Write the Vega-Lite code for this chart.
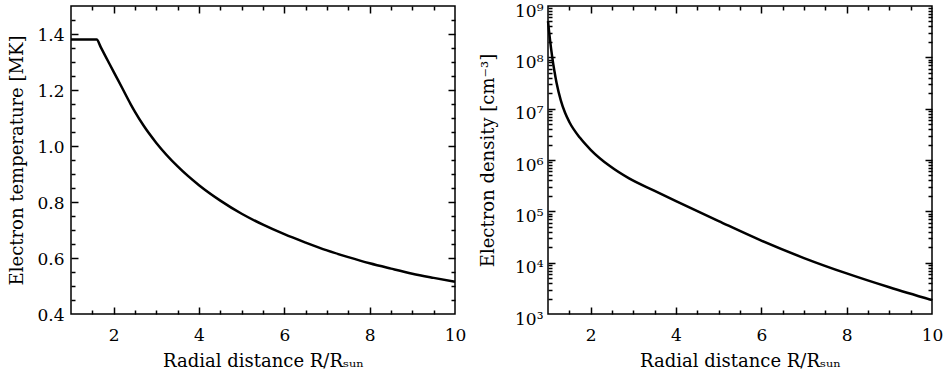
{
  "$schema": "https://vega.github.io/schema/vega-lite/v6.json",
  "padding": {"left": 8, "top": 1, "right": 0, "bottom": 0},
  "background": "white",
  "spacing": 11,
  "config": {
    "font": "DejaVu Serif",
    "view": {"stroke": "black", "strokeWidth": 1.5},
    "axis": {
      "domain": false, "grid": false, "zindex": 1,
      "labelFont": "DejaVu Serif", "labelFontSize": 17, "labelColor": "black",
      "titleFont": "DejaVu Serif", "titleFontSize": 18, "titleFontWeight": "normal", "titleColor": "black",
      "tickColor": "black", "tickWidth": 1.5, "ticks": true,
      "labelOverlap": false, "labelBound": false, "labelFlush": false
    }
  },
  "datasets": {
    "temp": [
      {"R": 1.0, "T": 1.38}, {"R": 1.3, "T": 1.38}, {"R": 1.6, "T": 1.38}, {"R": 1.7, "T": 1.352},
      {"R": 1.8, "T": 1.323}, {"R": 2.0, "T": 1.265}, {"R": 2.2, "T": 1.207}, {"R": 2.4, "T": 1.149},
      {"R": 2.5, "T": 1.122}, {"R": 2.7, "T": 1.073}, {"R": 3.0, "T": 1.011}, {"R": 3.5, "T": 0.927},
      {"R": 4.0, "T": 0.860}, {"R": 4.5, "T": 0.805}, {"R": 5.0, "T": 0.758}, {"R": 5.5, "T": 0.719},
      {"R": 6.0, "T": 0.685}, {"R": 6.5, "T": 0.655}, {"R": 7.0, "T": 0.627}, {"R": 7.5, "T": 0.603},
      {"R": 8.0, "T": 0.581}, {"R": 8.5, "T": 0.562}, {"R": 9.0, "T": 0.544}, {"R": 9.5, "T": 0.529},
      {"R": 10.0, "T": 0.515}
    ],
    "dens": [
      {"R": 1.0, "n": 5.1e8}, {"R": 1.02, "n": 3.5e8}, {"R": 1.05, "n": 2.1e8}, {"R": 1.1, "n": 1.0e8},
      {"R": 1.15, "n": 5.4e7}, {"R": 1.2, "n": 3.2e7}, {"R": 1.3, "n": 1.45e7}, {"R": 1.4, "n": 8.3e6},
      {"R": 1.5, "n": 5.5e6}, {"R": 1.75, "n": 2.7e6}, {"R": 2.0, "n": 1.58e6}, {"R": 2.45, "n": 7.6e5},
      {"R": 2.9, "n": 4.37e5}, {"R": 3.5, "n": 2.5e5}, {"R": 4.0, "n": 1.58e5}, {"R": 5.0, "n": 6.45e4},
      {"R": 6.0, "n": 2.69e4}, {"R": 7.0, "n": 1.23e4}, {"R": 8.0, "n": 6.17e3}, {"R": 9.0, "n": 3.31e3},
      {"R": 10.0, "n": 1.86e3}
    ]
  },
  "hconcat": [
    {
      "width": 384, "height": 308,
      "data": {"name": "temp"},
      "resolve": {"axis": {"x": "independent", "y": "independent"}},
      "layer": [
        {
          "mark": {"type": "line", "color": "black", "strokeWidth": 2.5, "interpolate": "monotone"},
          "encoding": {
            "x": {"field": "R", "type": "quantitative", "scale": {"domain": [1, 10], "nice": false, "zero": false},
              "axis": {"orient": "bottom", "values": [2, 4, 6, 8, 10], "format": "d", "tickSize": 0,
                "labelPadding": 13, "title": "Radial distance R/Rₛᵤₙ", "titlePadding": 9}},
            "y": {"field": "T", "type": "quantitative", "scale": {"domain": [0.4, 1.5], "nice": false, "zero": false},
              "axis": {"orient": "left", "values": [0.4, 0.6, 0.8, 1.0, 1.2, 1.4], "format": ".1f", "tickSize": 0,
                "labelPadding": 7, "labelOffset": 1, "title": "Electron temperature [MK]", "titlePadding": 10}}
          }
        },
        {
          "mark": {"type": "line", "opacity": 0},
          "encoding": {
            "x": {"field": "R", "type": "quantitative",
              "axis": {"orient": "bottom", "labels": false, "title": null, "tickSize": 7, "offset": -7, "values": [2, 4, 6, 8]}},
            "y": {"field": "T", "type": "quantitative",
              "axis": {"orient": "left", "labels": false, "title": null, "tickSize": 7, "offset": -7, "values": [0.6, 0.8, 1.0, 1.2, 1.4]}}
          }
        },
        {
          "mark": {"type": "line", "opacity": 0},
          "encoding": {
            "x": {"field": "R", "type": "quantitative",
              "axis": {"orient": "bottom", "labels": false, "title": null, "tickSize": 4, "offset": -4,
                "values": [1.5,2.5,3,3.5,4.5,5,5.5,6.5,7,7.5,8.5,9,9.5]}},
            "y": {"field": "T", "type": "quantitative",
              "axis": {"orient": "left", "labels": false, "title": null, "tickSize": 4, "offset": -4,
                "values": [0.45,0.5,0.55,0.65,0.7,0.75,0.85,0.9,0.95,1.05,1.1,1.15,1.25,1.3,1.35,1.45]}}
          }
        },
        {
          "mark": {"type": "line", "opacity": 0},
          "encoding": {
            "x": {"field": "R", "type": "quantitative",
              "axis": {"orient": "top", "labels": false, "title": null, "tickSize": 7, "offset": -7, "values": [2, 4, 6, 8]}},
            "y": {"field": "T", "type": "quantitative",
              "axis": {"orient": "right", "labels": false, "title": null, "tickSize": 7, "offset": -7, "values": [0.6, 0.8, 1.0, 1.2, 1.4]}}
          }
        },
        {
          "mark": {"type": "line", "opacity": 0},
          "encoding": {
            "x": {"field": "R", "type": "quantitative",
              "axis": {"orient": "top", "labels": false, "title": null, "tickSize": 4, "offset": -4,
                "values": [1.5,2.5,3,3.5,4.5,5,5.5,6.5,7,7.5,8.5,9,9.5]}},
            "y": {"field": "T", "type": "quantitative",
              "axis": {"orient": "right", "labels": false, "title": null, "tickSize": 4, "offset": -4,
                "values": [0.45,0.5,0.55,0.65,0.7,0.75,0.85,0.9,0.95,1.05,1.1,1.15,1.25,1.3,1.35,1.45]}}
          }
        }
      ]
    },
    {
      "width": 384, "height": 308,
      "data": {"name": "dens"},
      "resolve": {"axis": {"x": "independent", "y": "independent"}},
      "layer": [
        {
          "mark": {"type": "line", "color": "black", "strokeWidth": 2.5, "interpolate": "monotone"},
          "encoding": {
            "x": {"field": "R", "type": "quantitative", "scale": {"domain": [1, 10], "nice": false, "zero": false},
              "axis": {"orient": "bottom", "values": [2, 4, 6, 8, 10], "format": "d", "tickSize": 0,
                "labelPadding": 13, "title": "Radial distance R/Rₛᵤₙ", "titlePadding": 9}},
            "y": {"field": "n", "type": "quantitative", "scale": {"type": "log", "domain": [1e3, 1e9], "nice": false},
              "axis": {"orient": "left", "values": [1e3, 1e4, 1e5, 1e6, 1e7, 1e8, 1e9], "tickSize": 0,
                "labelExpr": "'10' + ['⁰','¹','²','³','⁴','⁵','⁶','⁷','⁸','⁹'][round(log(datum.value)/LN10)]",
                "labelPadding": 5, "labelOffset": 5, "title": "Electron density [cm⁻³]", "titlePadding": 17}}
          }
        },
        {
          "mark": {"type": "line", "opacity": 0},
          "encoding": {
            "x": {"field": "R", "type": "quantitative",
              "axis": {"orient": "bottom", "labels": false, "title": null, "tickSize": 7, "offset": -7, "values": [2, 4, 6, 8]}},
            "y": {"field": "n", "type": "quantitative",
              "axis": {"orient": "left", "labels": false, "title": null, "tickSize": 7, "offset": -7, "values": [1e4, 1e5, 1e6, 1e7, 1e8]}}
          }
        },
        {
          "mark": {"type": "line", "opacity": 0},
          "encoding": {
            "x": {"field": "R", "type": "quantitative",
              "axis": {"orient": "bottom", "labels": false, "title": null, "tickSize": 4, "offset": -4,
                "values": [1.5,2.5,3,3.5,4.5,5,5.5,6.5,7,7.5,8.5,9,9.5]}},
            "y": {"field": "n", "type": "quantitative",
              "axis": {"orient": "left", "labels": false, "title": null, "tickSize": 4, "offset": -4,
                "values": [2e3,3e3,4e3,5e3,6e3,7e3,8e3,9e3,2e4,3e4,4e4,5e4,6e4,7e4,8e4,9e4,2e5,3e5,4e5,5e5,6e5,7e5,8e5,9e5,2e6,3e6,4e6,5e6,6e6,7e6,8e6,9e6,2e7,3e7,4e7,5e7,6e7,7e7,8e7,9e7,2e8,3e8,4e8,5e8,6e8,7e8,8e8,9e8]}}
          }
        },
        {
          "mark": {"type": "line", "opacity": 0},
          "encoding": {
            "x": {"field": "R", "type": "quantitative",
              "axis": {"orient": "top", "labels": false, "title": null, "tickSize": 7, "offset": -7, "values": [2, 4, 6, 8]}},
            "y": {"field": "n", "type": "quantitative",
              "axis": {"orient": "right", "labels": false, "title": null, "tickSize": 7, "offset": -7, "values": [1e4, 1e5, 1e6, 1e7, 1e8]}}
          }
        },
        {
          "mark": {"type": "line", "opacity": 0},
          "encoding": {
            "x": {"field": "R", "type": "quantitative",
              "axis": {"orient": "top", "labels": false, "title": null, "tickSize": 4, "offset": -4,
                "values": [1.5,2.5,3,3.5,4.5,5,5.5,6.5,7,7.5,8.5,9,9.5]}},
            "y": {"field": "n", "type": "quantitative",
              "axis": {"orient": "right", "labels": false, "title": null, "tickSize": 4, "offset": -4,
                "values": [2e3,3e3,4e3,5e3,6e3,7e3,8e3,9e3,2e4,3e4,4e4,5e4,6e4,7e4,8e4,9e4,2e5,3e5,4e5,5e5,6e5,7e5,8e5,9e5,2e6,3e6,4e6,5e6,6e6,7e6,8e6,9e6,2e7,3e7,4e7,5e7,6e7,7e7,8e7,9e7,2e8,3e8,4e8,5e8,6e8,7e8,8e8,9e8]}}
          }
        }
      ]
    }
  ]
}
